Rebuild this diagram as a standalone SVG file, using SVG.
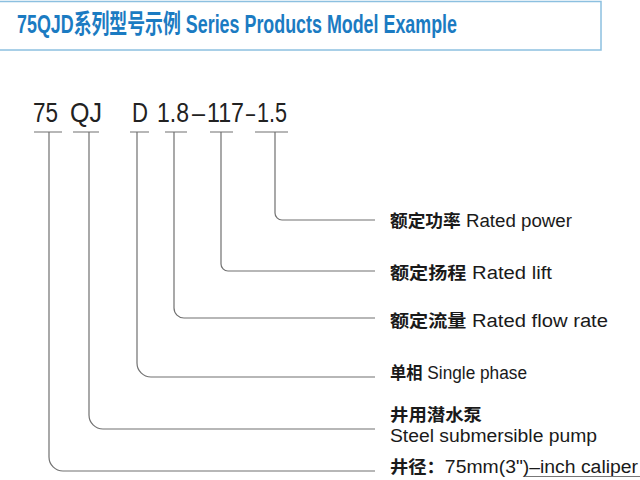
<svg xmlns="http://www.w3.org/2000/svg" width="640" height="480" viewBox="0 0 640 480">
<style>
.title{font-family:"Liberation Sans","Noto Sans CJK SC",sans-serif;font-size:26px;font-weight:bold;fill:#1b7bc2}
.code{font-family:"Liberation Sans",sans-serif;font-size:28px;fill:#222}
.lbl{font-family:"Liberation Sans","Noto Sans CJK SC",sans-serif;font-size:18px;fill:#1a1a1a}
.cn{font-family:"Noto Sans CJK SC",sans-serif;font-weight:bold;font-size:17px}
.ln{fill:none;stroke:#707070;stroke-width:1.2}
</style>
<rect x="-2" y="1.5" width="603" height="48.5" fill="#fff" stroke="#8cc0e0" stroke-width="1.5"/>
<text class="title" x="17" y="33" textLength="440" lengthAdjust="spacingAndGlyphs">75QJD系列型号示例 Series Products Model Example</text>

<g id="code">
<text class="code" x="33" y="122" textLength="25" lengthAdjust="spacingAndGlyphs">75</text>
<text class="code" x="70" y="122" textLength="32" lengthAdjust="spacingAndGlyphs">QJ</text>
<text class="code" x="132" y="122" textLength="16" lengthAdjust="spacingAndGlyphs">D</text>
<text class="code" y="122"><tspan x="157" textLength="32" lengthAdjust="spacingAndGlyphs">1.8</tspan><tspan x="192" textLength="13" lengthAdjust="spacingAndGlyphs">–</tspan><tspan x="207" textLength="37" lengthAdjust="spacingAndGlyphs">117</tspan><tspan x="246" textLength="9" lengthAdjust="spacingAndGlyphs">–</tspan><tspan x="257" textLength="30" lengthAdjust="spacingAndGlyphs">1.5</tspan></text>
</g>

<g id="connectors">
<path class="ln" d="M34 132H62M73 132H99M130 132H149M165 132H187M210 132H233M255 132H288"/>
<path class="ln" d="M275 132V213A7 7 0 0 0 282 220H375"/>
<path class="ln" d="M221 132V264A7 7 0 0 0 228 271H375"/>
<path class="ln" d="M174 132V308A10 10 0 0 0 184 318H375"/>
<path class="ln" d="M137 132V363A14 14 0 0 0 151 377H375"/>
<path class="ln" d="M89 132V415A14 14 0 0 0 103 429H375"/>
<path class="ln" d="M49 132V457A14 14 0 0 0 63 471H375"/>
</g>

<g id="power"><text class="lbl" x="390" y="227" textLength="182" lengthAdjust="spacingAndGlyphs"><tspan class="cn">额定功率</tspan> Rated power</text></g>
<g id="lift"><text class="lbl" x="390" y="279" textLength="162" lengthAdjust="spacingAndGlyphs"><tspan class="cn">额定扬程</tspan> Rated lift</text></g>
<g id="flow"><text class="lbl" x="390" y="327" textLength="218" lengthAdjust="spacingAndGlyphs"><tspan class="cn">额定流量</tspan> Rated flow rate</text></g>
<g id="phase"><text class="lbl" x="390" y="379" textLength="137" lengthAdjust="spacingAndGlyphs"><tspan class="cn">单相</tspan> Single phase</text></g>
<g id="pump">
<text class="lbl cn" x="390" y="421" textLength="92" lengthAdjust="spacingAndGlyphs">井用潜水泵</text>
<text class="lbl" x="390" y="442" textLength="207" lengthAdjust="spacingAndGlyphs">Steel submersible pump</text>
</g>
<g id="caliper">
<text class="lbl" x="390" y="473" textLength="248" lengthAdjust="spacingAndGlyphs"><tspan class="cn">井径：</tspan>75mm(3")–inch caliper</text>
<path d="M525 476.5H640" stroke="#777" stroke-width="1"/>
</g>
</svg>
